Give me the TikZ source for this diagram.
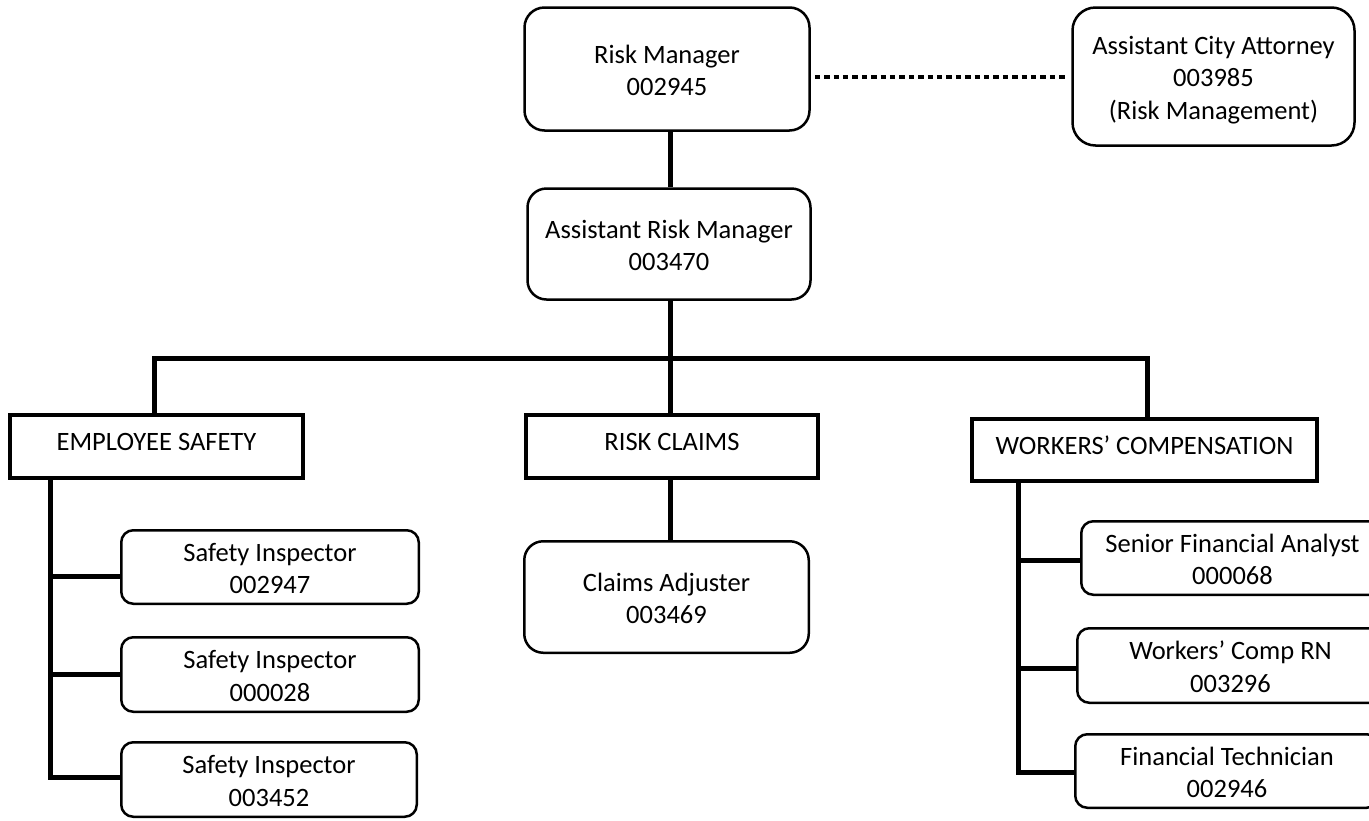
\documentclass[tikz,border=0pt]{standalone}
\usepackage{fontspec}
\setmainfont{Carlito}
\usetikzlibrary{calc}
\newcommand\myshift[1]{\raisebox{-4pt}[\height][\depth]{\begin{tabular}{@{}c@{}}#1\end{tabular}}}
\begin{document}
\begin{tikzpicture}[x=1pt,y=-1pt,
  every node/.style={font=\fontsize{26.5pt}{32.3pt}\selectfont},
  rbox/.style={draw, line width=2.5pt, rounded corners=#1, align=center, inner sep=0pt},
  rbox/.default=12pt,
  hbox/.style={draw, line width=4pt, align=center, inner sep=0pt, text height=17pt, text depth=9pt},
  conn/.style={line width=5pt, line join=miter},
  dotconn/.style={line width=4pt, dash pattern=on 5.5pt off 3.9pt}]
\useasboundingbox (0,0) rectangle (1369,820);

% top level
\node[rbox=20pt, minimum width=285pt, minimum height=123pt] (rm) at (667,69) {\myshift{Risk Manager\\002945}};
\node[rbox=23pt, minimum width=282pt, minimum height=138pt] (att) at (1213.5,76.5) {\myshift{Assistant City Attorney\\003985\\(Risk Management)}};
\node[rbox=19pt, minimum width=283pt, minimum height=111pt] (arm) at (669,244) {\myshift{Assistant Risk Manager\\003470}};

% divisions
\node[hbox, minimum width=293pt, minimum height=63pt] (es) at (156.5,446.5) {EMPLOYEE SAFETY};
\node[hbox, minimum width=292pt, minimum height=63pt] (rc) at (672,446.5) {RISK CLAIMS};
\node[hbox, minimum width=345pt, minimum height=62pt] (wc) at (1144.5,450) {WORKERS’ COMPENSATION};

% employee safety
\node[rbox, minimum width=297.5pt, minimum height=73.5pt] (si1) at (270,567) {\myshift{Safety Inspector\\002947}};
\node[rbox, minimum width=297.5pt, minimum height=74.5pt] (si2) at (270,674.5) {\myshift{Safety Inspector\\000028}};
\node[rbox, minimum width=295.5pt, minimum height=74.5pt] (si3) at (269,779.5) {\myshift{Safety Inspector\\003452}};

% risk claims
\node[rbox=19pt, minimum width=284.5pt, minimum height=111.5pt] (ca) at (666.5,597) {\myshift{Claims Adjuster\\003469}};

% workers' compensation
\node[rbox, minimum width=302.5pt, minimum height=73.5pt] (wc1) at (1232.5,558) {\myshift{Senior Financial Analyst\\000068}};
\node[rbox, minimum width=306.5pt, minimum height=74.5pt] (wc2) at (1230.5,665.5) {\myshift{Workers’ Comp RN\\003296}};
\node[rbox, minimum width=303.5pt, minimum height=73.5pt] (wc3) at (1227,771) {\myshift{Financial Technician\\002946}};

% helper coordinates
\coordinate (colx) at (670,0);
\coordinate (bus) at (670,358);
\coordinate (esv) at (50,0);
\coordinate (wcv) at (1018,0);

% connectors
\draw[dotconn] ([xshift=4pt]rm.east |- 0,77) -- ([xshift=-4pt]att.west |- 0,77);
\draw[conn] (rm.south -| colx) -- (arm.north -| colx);
\draw[conn] (arm.south -| colx) -- (bus);
\draw[conn] (es.north -| 154,0) |- (bus) -| (wc.north -| 1147,0);
\draw[conn] (bus) -- (rc.north -| colx);
\draw[conn] (rc.south -| colx) -- (ca.north -| colx);

\draw[conn] (es.south -| esv) |- (si3.west |- 0,777);
\draw[conn] (esv |- 0,576) -- (si1.west |- 0,576);
\draw[conn] (esv |- si2.west) -- (si2.west);

\draw[conn] (wc.south -| wcv) |- (wc3.west |- 0,772);
\draw[conn] (wcv |- 0,560) -- (wc1.west |- 0,560);
\draw[conn] (wcv |- 0,668) -- (wc2.west |- 0,668);
\end{tikzpicture}
\end{document}
